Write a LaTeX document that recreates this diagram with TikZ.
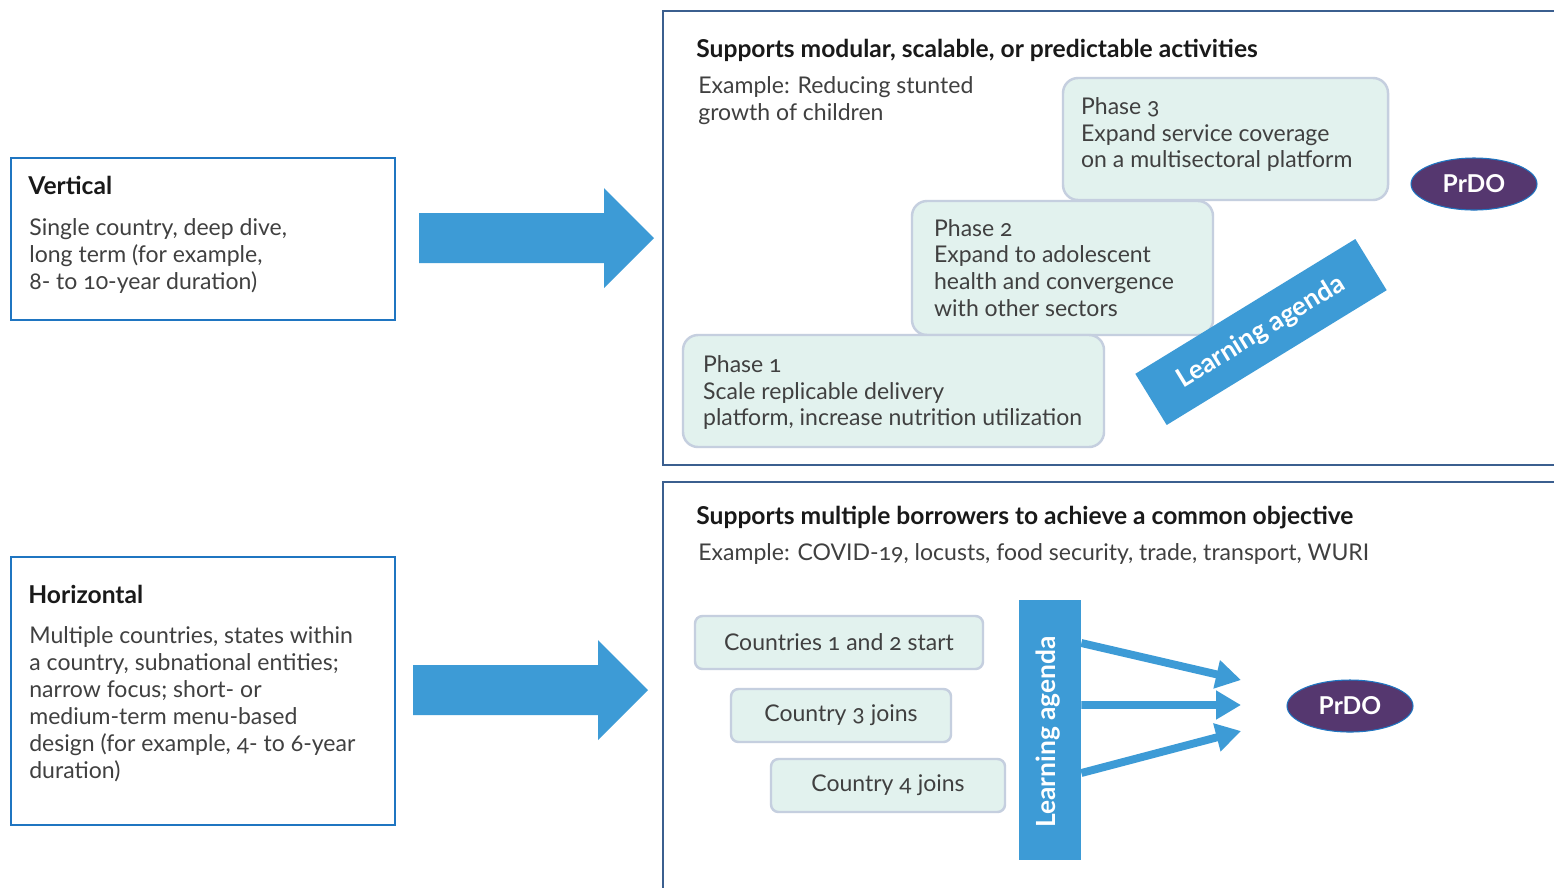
\documentclass[tikz,border=0pt]{standalone}
\usepackage{fontspec}
\setmainfont{Lato}[Numbers=OldStyle]
\usetikzlibrary{positioning,shapes.geometric,arrows.meta}
\definecolor{arrowblue}{HTML}{3D9BD6}
\definecolor{boxblue}{HTML}{1F75C1}
\definecolor{panelblue}{HTML}{3B5F8F}
\definecolor{phasefill}{HTML}{E2F2EE}
\definecolor{phaseline}{HTML}{C5CFDF}
\definecolor{prdocol}{HTML}{55376F}
\definecolor{bodytxt}{HTML}{404040}
\def\px{0.02cm}
\newcommand{\bodyfont}{\fontsize{13.1}{15.3}\selectfont}
\newcommand{\headfont}{\fontsize{14}{16}\selectfont\bfseries}
\tikzset{
  typebox/.style={draw=boxblue,line width=1.1pt,minimum width=384*\px},
  panel/.style={draw=panelblue,line width=1.1pt},
  phase/.style={draw=phaseline,line width=1.4pt,fill=phasefill,rounded corners=0.3cm},
  phasetext/.style={anchor=west,inner sep=0pt,align=left,text=bodytxt,font=\bodyfont},
  country/.style={draw=phaseline,line width=1.4pt,fill=phasefill,rounded corners=0.15cm,
    minimum height=53*\px,text=bodytxt,font=\bodyfont},
  prdo/.style={ellipse,draw=boxblue,line width=0.6pt,fill=prdocol,text=white,
    minimum width=126*\px,minimum height=52*\px,font=\fontsize{14}{16}\selectfont\bfseries},
  agenda/.style={fill=arrowblue,text=white,font=\fontsize{15}{17}\selectfont\bfseries},
  heading/.style={anchor=base west,inner sep=0pt,text=black!90,font=\headfont},
  bodytext/.style={anchor=base west,inner sep=0pt,align=left,text=bodytxt,font=\bodyfont},
  feed/.style={arrowblue,line width=4.5pt,-{Triangle[length=0.5cm,width=0.55cm]}}
}
\begin{document}
\begin{tikzpicture}[x=0.02cm,y=-0.02cm]
\clip (0,0) rectangle (1554,887);
\fill[white] (0,0) rectangle (1554,887);
% left side: the two kinds
\node[typebox,minimum height=162*\px] (vert) at (203,239) {};
\node[heading] (verttitle) at (28,194) {Vertical};
% base of a multi-line node = its last line
\node[bodytext] (verttext) at (29,289) {Single country, deep dive,\\long term (for example,\\8- to 10-year duration)};
\node[typebox,minimum height=268*\px] (horiz) at (203,691) {};
\node[heading] (horiztitle) at (28,603) {Horizontal};
\node[bodytext] (horiztext) at (29,778) {Multiple countries, states within\\a country, subnational entities;\\narrow focus; short- or\\medium-term menu-based\\design (for example, 4- to 6-year\\duration)};
% big arrows
\fill[arrowblue] (419,213)--(604,213)--(604,188)--(654,238)--(604,288)--(604,263)--(419,263)--cycle;
\fill[arrowblue] (413,665)--(598,665)--(598,640)--(648,690)--(598,740)--(598,715)--(413,715)--cycle;
% top panel
\draw[panel] (1600,11) -- (663,11) -- (663,465) -- (1600,465);
\node[heading] (toptitle) at (696,57) {Supports modular, scalable, or predictable activities};
\node[bodytext] (topex) at (698,120) {Example: Reducing stunted\\growth of children};
\node[phase,minimum width=325*\px,minimum height=122*\px] (phase3) at (1225.5,139) {};
\node[phasetext,right=0.38cm of phase3.west,yshift=0.09cm] (phase3text) {Phase 3\\Expand service coverage\\on a multisectoral platform};
\node[phase,minimum width=301*\px,minimum height=134*\px] (phase2) at (1062.5,268) {};
\node[phasetext,right=0.46cm of phase2.west] (phase2text) {Phase 2\\Expand to adolescent\\health and convergence\\with other sectors};
\node[phase,minimum width=421*\px,minimum height=112*\px] (phase1) at (893.5,391) {};
\node[phasetext,right=0.42cm of phase1.west,yshift=-0.03cm] (phase1text) {Phase 1\\Scale replicable delivery\\platform, increase nutrition utilization};
\node[agenda,rotate=31.5,minimum width=258*\px,minimum height=60*\px] (agendatop) at (1261,332) {Learning agenda};
\node[prdo] (prdotop) at (1474,184) {PrDO};
% bottom panel
\draw[panel] (1600,482) -- (663,482) -- (663,900);
\node[heading] (bottitle) at (696,524) {Supports multiple borrowers to achieve a common objective};
\node[bodytext] (botex) at (698,560) {Example: COVID-19, locusts, food security, trade, transport, WURI};
\node[country,minimum width=288*\px] (c12) at (839,642.5) {Countries 1 and 2 start};
\node[country,minimum width=220*\px] (c3) at (841,715.5) {Country 3 joins};
\node[country,minimum width=234*\px] (c4) at (888,785.5) {Country 4 joins};
\node[agenda,minimum width=62*\px,minimum height=260*\px] (agendabot) at (1050,730) {};
\node[agenda,rotate=90,inner sep=0pt] (agendalabel) at (1048,732) {Learning agenda};
\coordinate (tipa) at (1241,680);
\coordinate (tipb) at (1241,705);
\coordinate (tipc) at (1241,731);
\draw[feed] ([yshift=1.74cm]agendabot.east) -- (tipa);
\draw[feed] ([yshift=0.5cm]agendabot.east) -- (tipb);
\draw[feed] ([yshift=-0.86cm]agendabot.east) -- (tipc);
\node[prdo] (prdobot) at (1350,706) {PrDO};
\end{tikzpicture}
\end{document}
